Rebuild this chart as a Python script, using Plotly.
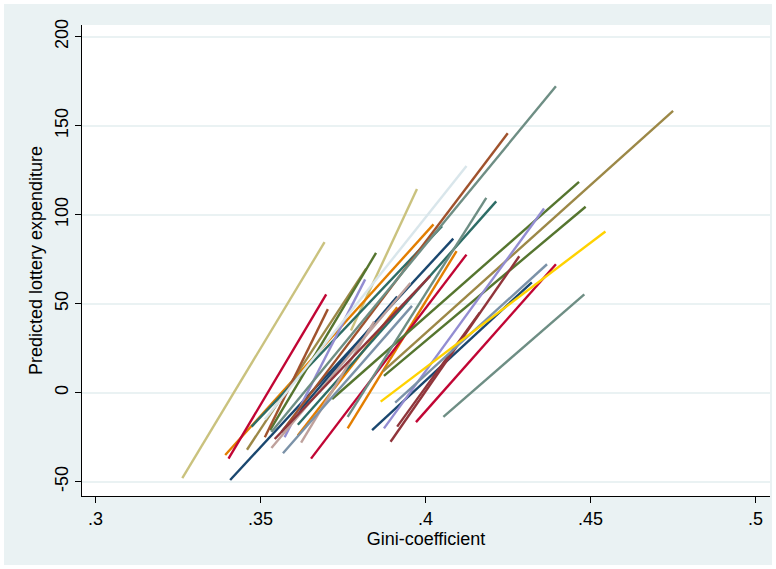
import plotly.graph_objects as go

# Each segment: predicted lottery expenditure over the observed Gini range of one unit
gini_start = [0.3263, 0.3774, 0.3408, 0.3563, 0.3838, 0.3393, 0.3764, 0.3613, 0.3403, 0.3653,
              0.3971, 0.3459, 0.3871, 0.3473, 0.3613, 0.3529, 0.3717, 0.3874, 0.3573, 0.3874,
              0.3513, 0.3568, 0.3533, 0.3623, 0.3894, 0.3914, 0.3543, 0.3568, 0.3908, 0.3513,
              0.3533, 0.3764, 0.4054, 0.3864]
gini_end = [0.3694, 0.3974, 0.4084, 0.3914, 0.4322, 0.4024, 0.4094, 0.3914, 0.3699, 0.4124,
            0.4395, 0.3820, 0.4750, 0.4050, 0.4214, 0.3850, 0.4465, 0.4485, 0.3817, 0.4359,
            0.3704, 0.4249, 0.3954, 0.3844, 0.4284, 0.4164, 0.4014, 0.3959, 0.4368, 0.4124,
            0.4395, 0.4184, 0.4481, 0.4545]
pred_start = [-48, 35, -49, -22, -21, -35, -20, -24, -37, -37,
              -16.5, -32, 12, -19, -18, -21, -3.5, 9.5, -25, -20,
              -25, -21, -31, -28, -27.5, -19, -26, -34, -5.5, -15,
              -22, -13.5, -13.5, -5]
pred_end = [84.6, 114.5, 86.6, 54, 62, 94.6, 79.6, 48, 55.3, 77.6,
            72.2, 69.7, 158.3, 93.6, 107.5, 78.6, 118.5, 104.5, 63.7, 103.5,
            47, 145.8, 61.7, 40, 76.7, 45, 65.7, 48.8, 72.2, 127.4,
            172.2, 109.5, 55.3, 90.6]
line_color_names = ["khaki", "khaki", "navy", "navy", "navy", "dkorange", "dkorange", "dkorange",
                    "cranberry", "cranberry", "cranberry", "brown", "brown", "emerald", "emerald",
                    "forest", "forest", "forest", "lavender", "lavender", "sienna", "sienna",
                    "erose", "erose", "maroon", "maroon", "maroon", "emidblue", "emidblue",
                    "bluishgray", "teal", "teal", "teal", "gold"]

x_tick_vals = [0.3, 0.35, 0.4, 0.45, 0.5]
x_tick_text = [".3", ".35", ".4", ".45", ".5"]
y_tick_vals = [-50, 0, 50, 100, 150, 200]
y_tick_text = ["-50", "0", "50", "100", "150", "200"]

palette = {
    "navy": "#1a476f", "maroon": "#90353b", "forest": "#55752f", "dkorange": "#e37e00",
    "teal": "#6e8e84", "cranberry": "#c10534", "lavender": "#938dd2", "khaki": "#cac27e",
    "sienna": "#a0522d", "emidblue": "#7b92a8", "emerald": "#2d6d66", "brown": "#9c8847",
    "erose": "#bfa19c", "gold": "#ffd200", "bluishgray": "#d9e6eb",
}

fig = go.Figure()
for x0, x1, y0, y1, c in zip(gini_start, gini_end, pred_start, pred_end, line_color_names):
    fig.add_trace(go.Scatter(x=[x0, x1], y=[y0, y1], mode="lines",
                             line=dict(color=palette[c], width=2.4), showlegend=False,
                             hoverinfo="skip"))

W, H = 776, 569
ml, mr, mt, mb = 82, 6, 25, 73
pw, ph = W - ml - mr, H - mt - mb
bg = "#eaf2f3"
font = "Liberation Sans, Arial, sans-serif"

fig.update_layout(
    width=W, height=H,
    margin=dict(l=ml, r=mr, t=mt, b=mb),
    paper_bgcolor=bg, plot_bgcolor="white",
    font=dict(family=font, color="black"),
    xaxis=dict(range=[0.29591, 0.50436], tickvals=x_tick_vals, ticktext=x_tick_text,
               showgrid=False, zeroline=False, showline=True, linecolor="black", linewidth=1,
               ticks="outside", ticklen=6, tickcolor="black", tickfont=dict(size=18),
               title=dict(text="Gini-coefficient", font=dict(size=18), standoff=2)),
    yaxis=dict(range=[-58.0, 206.6], tickvals=y_tick_vals, ticktext=y_tick_text,
               tickangle=-90, showgrid=True, gridcolor=bg, gridwidth=1.5, zeroline=False,
               showline=True, linecolor="black", linewidth=1,
               ticks="outside", ticklen=6, tickcolor="black", tickfont=dict(size=18),
               title=dict(text="Predicted lottery expenditure", font=dict(size=18), standoff=4)),
    shapes=[dict(type="rect", xref="paper", yref="paper",
                 x0=-ml / pw, x1=1 + mr / pw, y0=-mb / ph, y1=1 + mt / ph,
                 line=dict(color="white", width=8), fillcolor="rgba(0,0,0,0)", layer="above")],
)

fig.write_html("out.html", config={"displayModeBar": False},
               post_script="document.body.style.margin='0';")
